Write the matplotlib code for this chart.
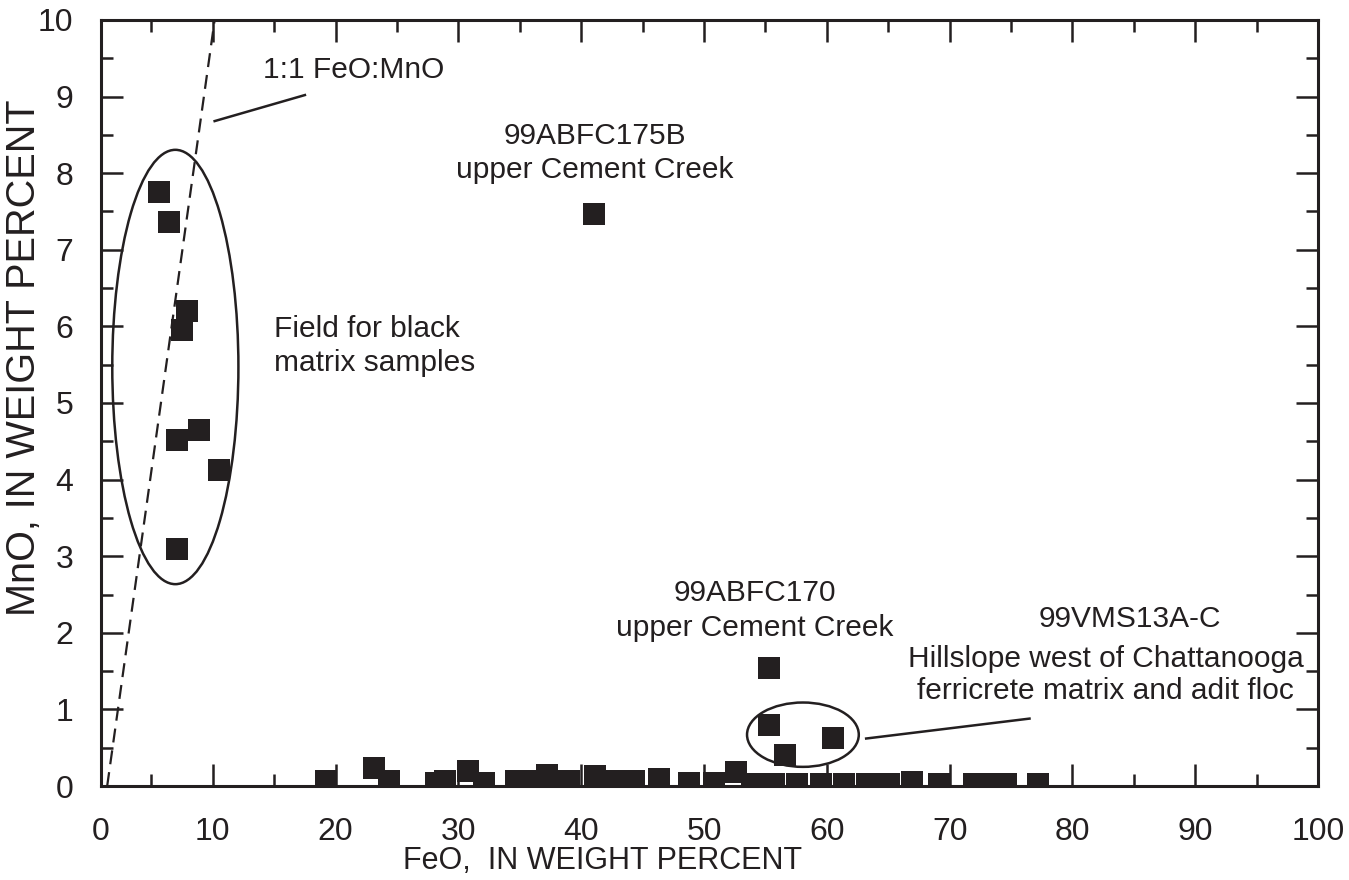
import matplotlib
matplotlib.use("Agg")
import matplotlib.pyplot as plt
from matplotlib.patches import Ellipse
from matplotlib.ticker import MultipleLocator

plt.rcParams['font.family'] = ['Liberation Sans', 'DejaVu Sans']

# FeO / MnO in weight percent
feo_black = [5.6, 6.4, 7.9, 7.5, 8.9, 7.05, 10.5, 7.05]
mno_black = [7.75, 7.36, 6.2, 5.95, 4.65, 4.52, 4.13, 3.1]

feo_other = [41.05, 55.3, 55.3, 56.6, 60.5]
mno_other = [7.47, 1.54, 0.79, 0.41, 0.63]

feo_low = [19.2, 23.1, 24.35, 28.2, 28.9, 30.8, 32.1, 34.7, 35.4, 37.2,
           39.0, 41.1, 42.9, 44.3, 46.3, 48.8, 50.8, 52.6, 53.9, 55.7,
           57.6, 59.5, 61.4, 63.3, 65.1, 66.9, 69.1, 72.0, 73.5, 74.6, 77.2]
mno_low = [0.07, 0.23, 0.06, 0.04, 0.06, 0.19, 0.04, 0.07, 0.06, 0.15,
           0.07, 0.13, 0.06, 0.06, 0.09, 0.04, 0.04, 0.18, 0.03, 0.02,
           0.02, 0.02, 0.02, 0.02, 0.02, 0.05, 0.02, 0.02, 0.02, 0.02, 0.02]

ratio_line_x = [1.4, 10.15]
ratio_line_y = [0, 10]

xticks = [0, 10, 20, 30, 40, 50, 60, 70, 80, 90, 100]
yticks = [0, 1, 2, 3, 4, 5, 6, 7, 8, 9, 10]

ink = '#231f20'

fig = plt.figure(figsize=(13.49, 8.8), dpi=100)
ax = fig.add_axes([0.0749, 0.1068, 0.9022, 0.8705])

ax.plot(ratio_line_x, ratio_line_y, color=ink, lw=1.6,
        linestyle=(0, (6.3, 3.6)))

for xs, ys in [(feo_black, mno_black), (feo_other, mno_other), (feo_low, mno_low)]:
    ax.plot(xs, ys, 's', color=ink, ms=16.5, mew=0, linestyle='none')

ax.add_patch(Ellipse((6.95, 5.47), 10.27, 5.67, fill=False, lw=1.8, ec=ink))
ax.add_patch(Ellipse((58.05, 0.67), 9.1, 0.84, fill=False, lw=1.8, ec=ink))

# leader lines
ax.plot([10.15, 17.5], [8.68, 9.02], color=ink, lw=1.8)
ax.plot([63.2, 76.5], [0.62, 0.88], color=ink, lw=1.8)

fs = 21.5
kw = dict(fontsize=fs, color=ink, va='baseline')
ax.text(21.45, 9.24, '1:1 FeO:MnO', ha='center', **kw)
ax.text(41.1, 8.38, '99ABFC175B', ha='center', **kw)
ax.text(41.1, 7.94, 'upper Cement Creek', ha='center', **kw)
ax.text(15.0, 5.86, 'Field for black', ha='left', **kw)
ax.text(15.0, 5.42, 'matrix samples', ha='left', **kw)
ax.text(54.1, 2.42, '99ABFC170', ha='center', **kw)
ax.text(54.1, 1.96, 'upper Cement Creek', ha='center', **kw)
ax.text(84.65, 2.07, '99VMS13A-C', ha='center', **kw)
ax.text(82.7, 1.56, 'Hillslope west of Chattanooga', ha='center', **kw)
ax.text(82.7, 1.13, 'ferricrete matrix and adit floc', ha='center', **kw)

# the printed frame starts a hair right of FeO = 0
ax.set_xlim(0.9, 100)
ax.set_ylim(0, 10)
ax.set_xticks([0.9] + xticks[1:], [str(v) for v in xticks])
ax.set_yticks(yticks, [str(v) for v in yticks])
ax.xaxis.set_minor_locator(MultipleLocator(5))
ax.yaxis.set_minor_locator(MultipleLocator(0.5))
ax.tick_params(which='both', direction='in', top=True, right=True,
               width=1.8, color=ink, labelcolor=ink, labelsize=23)
ax.tick_params(which='major', length=15.8)
ax.tick_params(which='minor', length=8.6)
ax.tick_params(axis='x', pad=22)
ax.tick_params(axis='y', pad=20)
for sp in ax.spines.values():
    sp.set_linewidth(2.2)
    sp.set_color(ink)

ax.set_xlabel('FeO,  IN WEIGHT PERCENT', fontsize=22, color=ink)
ax.xaxis.set_label_coords(0.412, -0.078)
ax.set_ylabel('MnO, IN WEIGHT PERCENT', fontsize=28.5, color=ink)
ax.yaxis.set_label_coords(-0.048, 0.559)

fig.savefig('out.png', dpi=100)
